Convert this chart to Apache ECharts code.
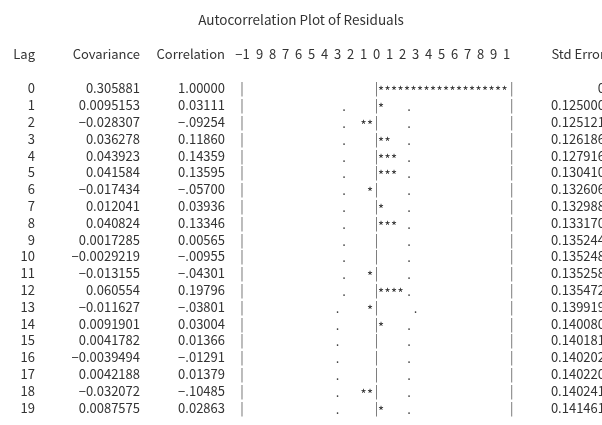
<!DOCTYPE html>
<html>
<head>
<meta charset="utf-8">
<script src="https://cdn.jsdelivr.net/npm/echarts@6/dist/echarts.min.js"></script>
<style>
  html, body { margin: 0; padding: 0; background: #ffffff; }
  #chart { width: 602px; height: 425px; }
</style>
</head>
<body>
<div id="chart"></div>
<script>
// Residual autocorrelation listing: lags, covariances, correlations, standard errors
const lags = [0, 1, 2, 3, 4, 5, 6, 7, 8, 9, 10, 11, 12, 13, 14, 15, 16, 17, 18, 19];
const covariance = [0.305881, 0.0095153, -0.028307, 0.036278, 0.043923, 0.041584, -0.017434, 0.012041,
  0.040824, 0.0017285, -0.0029219, -0.013155, 0.060554, -0.011627, 0.0091901, 0.0041782, -0.0039494,
  0.0042188, -0.032072, 0.0087575];
const correlation = [1.00000, 0.03111, -0.09254, 0.11860, 0.14359, 0.13595, -0.05700, 0.03936, 0.13346,
  0.00565, -0.00955, -0.04301, 0.19796, -0.03801, 0.03004, 0.01366, -0.01291, 0.01379, -0.10485, 0.02863];
const stdError = [0, 0.125000, 0.125121, 0.126186, 0.127916, 0.130410, 0.132606, 0.132988, 0.133170,
  0.135244, 0.135248, 0.135258, 0.135472, 0.139919, 0.140080, 0.140181, 0.140202, 0.140220, 0.140241, 0.141461];
// Two-standard-error marks ('.') on each side of zero, in correlation units
const lowerMark = [null, -0.25, -0.25, -0.25, -0.25, -0.25, -0.25, -0.25, -0.25, -0.25, -0.25, -0.25, -0.25,
  -0.30, -0.30, -0.30, -0.30, -0.30, -0.30, -0.30];
const upperMark = [null, 0.25, 0.25, 0.25, 0.25, 0.25, 0.25, 0.25, 0.25, 0.25, 0.25, 0.25, 0.25,
  0.30, 0.25, 0.25, 0.25, 0.25, 0.25, 0.25];
// Column headings
const headLag = 'Lag';
const headCov = 'Covariance';
const headCorr = 'Correlation';
const headStd = 'Std Error';
const titleText = 'Autocorrelation Plot of Residuals';

const FONT = '"Noto Sans CJK KR", "Noto Sans", sans-serif';
const FS = 13;
const INK = '#333333';
const RULE = '#666666';
const MINUS = '\u2212';

function fmtCov(v) {
  const s = String(v);
  return v < 0 ? MINUS + s.slice(1) : s;
}
function fmtCorr(v) {
  if (v < 0) return MINUS + Math.abs(v).toFixed(5).slice(1);
  return v.toFixed(5);
}
function fmtStd(v) {
  return v === 0 ? '0' : v.toFixed(6);
}
// Scale heading: -1, 9 ... 1, 0, 1 ... 9, 1 (tenths of a correlation)
function tickLabel(v) {
  const d = Math.round(Math.abs(v) * 10);
  if (d === 10) return v < 0 ? '{neg|' + MINUS + '1}' : '1';
  return String(d);
}

const rows = lags.map((lag, i) => [correlation[i], lag, i]);

function txt(x, y, text, align, color) {
  return {
    type: 'text',
    x: x, y: y,
    style: {
      text: text,
      fill: color || INK,
      font: FS + 'px ' + FONT,
      align: align || 'center',
      verticalAlign: 'middle'
    }
  };
}

function renderRow(params, api) {
  const i = api.value(2);
  const r = api.value(0);
  const lag = api.value(1);
  const p0 = api.coord([0, lag]);
  const cx = p0[0];
  const y = p0[1];
  const children = [];

  // text columns
  children.push(txt(35, y, String(lag), 'right'));
  children.push(txt(140, y, fmtCov(covariance[i]), 'right'));
  children.push(txt(225, y, fmtCorr(correlation[i]), 'right'));
  children.push(txt(605, y, fmtStd(stdError[i]), 'right'));

  // frame bars at -1, 0 and +1
  children.push(txt(api.coord([-1.035, lag])[0], y, '|', 'center', RULE));
  children.push(txt(cx, y, '|', 'center', RULE));
  children.push(txt(api.coord([1.04, lag])[0], y, '|', 'center', RULE));

  // bar of asterisks, one per 0.05 of correlation
  const n = Math.round(Math.abs(r) * 20);
  for (let k = 1; k <= n; k++) {
    const v = r > 0 ? (k - 0.3) / 20 : -k / 20;
    children.push(txt(api.coord([v, lag])[0], y + 3, '*', 'center'));
  }

  // two-standard-error dots
  if (lowerMark[i] != null) {
    children.push(txt(api.coord([lowerMark[i], lag])[0], y + 1, '.', 'center'));
    children.push(txt(api.coord([upperMark[i], lag])[0], y + 1, '.', 'center'));
  }
  return { type: 'group', children: children };
}

const chart = echarts.init(document.getElementById('chart'), null, { renderer: 'canvas' });
chart.setOption({
  backgroundColor: '#ffffff',
  animation: false,
  title: {
    text: titleText,
    left: 'center',
    top: 8,
    textStyle: { fontFamily: FONT, fontSize: 13.5, fontWeight: 'normal', color: INK }
  },
  grid: { left: 246.5, right: 95.5, top: 80, bottom: 9 },
  xAxis: {
    type: 'value',
    position: 'top',
    min: -1,
    max: 1,
    interval: 0.1,
    axisLine: { show: false },
    axisTick: { show: false },
    splitLine: { show: false },
    axisLabel: {
      margin: 19,
      fontFamily: FONT,
      fontSize: FS,
      color: INK,
      formatter: tickLabel,
      rich: {
        neg: { fontFamily: FONT, fontSize: FS, color: INK, padding: [0, 8, 0, 0] }
      }
    }
  },
  yAxis: {
    type: 'category',
    data: lags,
    inverse: true,
    show: false
  },
  graphic: [
    txt(35, 54, headLag, 'right'),
    txt(140, 54, headCov, 'right'),
    txt(225, 54, headCorr, 'right'),
    txt(605, 54, headStd, 'right')
  ],
  series: [{
    type: 'custom',
    renderItem: renderRow,
    encode: { x: 0, y: 1 },
    clip: false,
    data: rows
  }]
});
</script>
</body>
</html>
